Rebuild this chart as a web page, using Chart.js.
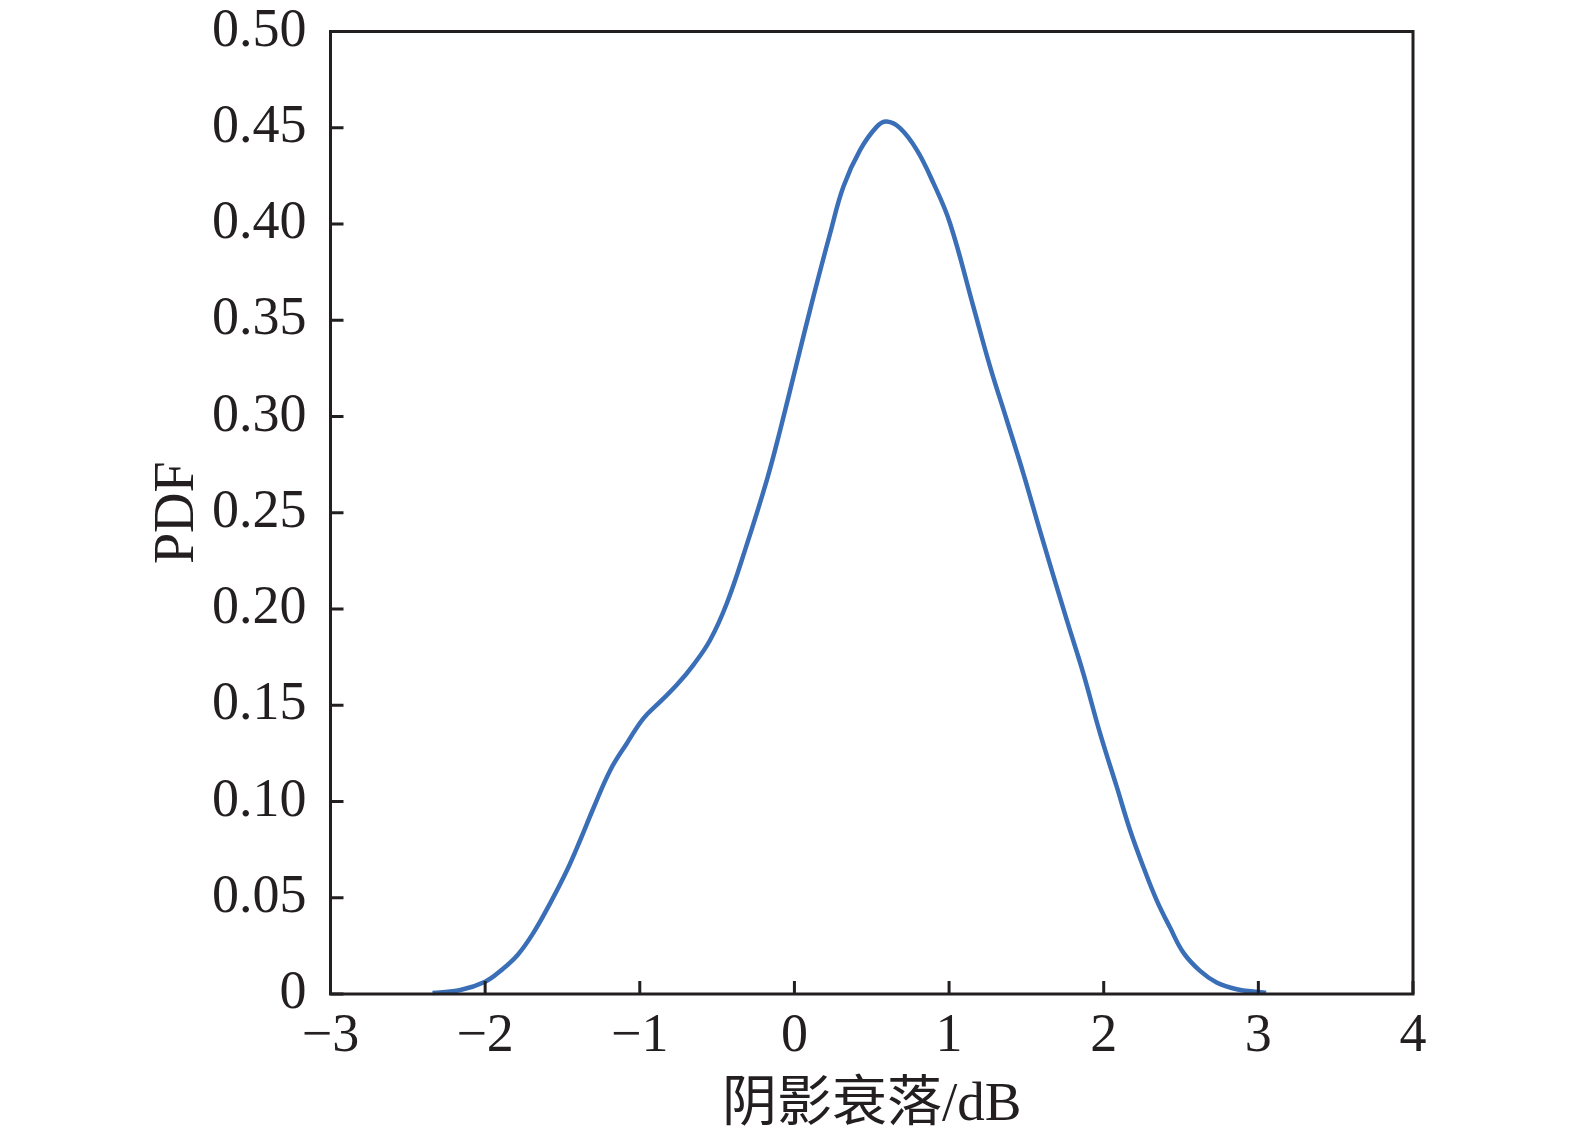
<!DOCTYPE html>
<html>
<head>
<meta charset="utf-8">
<script src="https://cdn.jsdelivr.net/npm/chart.js@4"></script>
<style>
html,body{margin:0;padding:0;background:#fff}
#c{display:block}
</style>
</head>
<body>
<canvas id="c" width="1575" height="1141"></canvas>
<script>

// DATA

const fading=[-2.34,-2.16,-2.00,-1.90,-1.79,-1.69,-1.58,-1.47,-1.385,-1.30,-1.19,-1.083,-0.976,-0.868,-0.76,-0.653,-0.545,-0.437,-0.319,-0.178,-0.092,0.015,0.123,0.231,0.317,0.425,0.533,0.597,0.683,0.791,0.899,1.006,1.157,1.265,1.373,1.480,1.599,1.761,1.868,1.976,2.084,2.170,2.256,2.342,2.429,2.515,2.623,2.730,2.860,3.00,3.05]

const pdf=[0.0005,0.0021,0.0064,0.0121,0.0203,0.0315,0.0471,0.0644,0.0800,0.0965,0.1164,0.1303,0.1432,0.1519,0.1606,0.1710,0.1839,0.2030,0.2307,0.2671,0.2930,0.3277,0.3623,0.3952,0.4195,0.4385,0.4506,0.4532,0.4498,0.4385,0.4212,0.4004,0.3571,0.3259,0.2982,0.2705,0.2376,0.1943,0.1666,0.1355,0.1077,0.0852,0.0661,0.0488,0.0345,0.0215,0.0120,0.0060,0.0025,0.0010,0.0006]

const xTicks=[-3,-2,-1,0,1,2,3,4]
const yTicks=[0,0.05,0.10,0.15,0.20,0.25,0.30,0.35,0.40,0.45,0.50]

const xTitle="阴影衰落/dB"
const yTitle="PDF"

const serif='"Liberation Serif","Noto Sans CJK SC",serif'
const ink="#231f20"


// BOX + INWARD TICKS

const frame={
id:"frame",
afterDatasetsDraw(chart){
const {ctx,chartArea:a,scales}=chart
ctx.save()
ctx.strokeStyle=ink
ctx.lineWidth=3
ctx.strokeRect(a.left,a.top,a.right-a.left,a.bottom-a.top)
ctx.beginPath()
xTicks.forEach(v=>{
const px=scales.x.getPixelForValue(v)
ctx.moveTo(px,a.bottom)
ctx.lineTo(px,a.bottom-13)
})
yTicks.forEach(v=>{
const py=scales.y.getPixelForValue(v)
ctx.moveTo(a.left,py)
ctx.lineTo(a.left+13,py)
})
ctx.stroke()
ctx.restore()
}
}


// CHART

new Chart(document.getElementById("c"),{
type:"line",
data:{
datasets:[{
data:fading.map((x,i)=>({x:x,y:pdf[i]})),
borderColor:"#3a6fb7",
borderWidth:4.5,
pointRadius:0,
fill:false,
tension:0.4,
clip:false
}]
},
options:{
responsive:false,
animation:false,
events:[],
layout:{padding:{left:0,right:162,top:31.5,bottom:0}},
plugins:{legend:{display:false},tooltip:{enabled:false}},
scales:{
x:{
type:"linear",
min:-3,max:4,
afterFit(s){s.height=147;s.paddingLeft=0;s.paddingRight=0},
afterBuildTicks(s){s.ticks=xTicks.map(v=>({value:v}))},
grid:{display:false,drawTicks:false},
border:{display:false},
ticks:{
padding:10,
color:ink,
font:{family:serif,size:54},
maxRotation:0,
callback:v=>String(v).replace("-","\u2212")
},
title:{display:true,text:xTitle,color:ink,font:{family:serif,size:55},padding:{top:0,bottom:2}}
},
y:{
min:0,max:0.5,
afterFit(s){s.width=330.5;s.paddingTop=0;s.paddingBottom=0},
afterBuildTicks(s){s.ticks=yTicks.map(v=>({value:v}))},
grid:{display:false,drawTicks:false},
border:{display:false},
ticks:{
padding:24,
color:ink,
font:{family:serif,size:54},
callback:v=>v===0?"0":v.toFixed(2)
},
title:{display:true,text:yTitle,color:ink,font:{family:serif,size:56},padding:{top:145,bottom:0}}
}
}
},
plugins:[frame]
})

</script>
</body>
</html>
